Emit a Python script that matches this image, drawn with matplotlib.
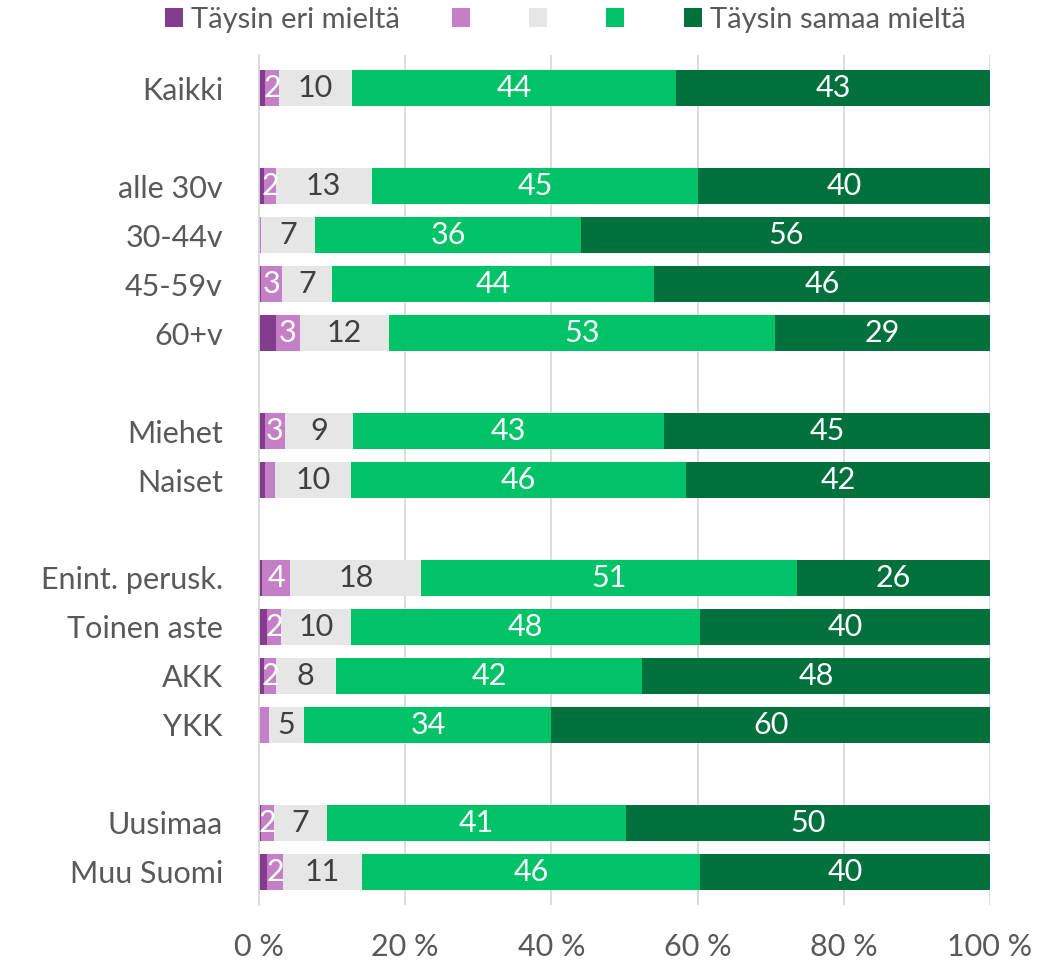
import numpy as np
import matplotlib
matplotlib.use('Agg')
import matplotlib.pyplot as plt

plt.rcParams['font.family'] = ['Lato', 'DejaVu Sans']

# Categories (None = gap row between groups)
cats = ['Kaikki', None, 'alle 30v', '30-44v', '45-59v', '60+v', None,
        'Miehet', 'Naiset', None,
        'Enint. perusk.', 'Toinen aste', 'AKK', 'YKK', None,
        'Uusimaa', 'Muu Suomi']

# shares in % (gap rows left out)
eri      = [0.8, 0.7, 0.0, 0.3, 2.3, 0.8, 0.8, 0.4, 1.1, 0.7, 0.0, 0.3, 1.1]
jokseenkin_eri = [2.0, 1.6, 0.3, 2.9, 3.3, 2.7, 1.4, 3.9, 1.9, 1.6, 1.3, 1.8, 2.2]
ei_osaa  = [9.9, 13.1, 7.4, 6.8, 12.2, 9.4, 10.4, 17.9, 9.6, 8.2, 4.9, 7.2, 10.8]
jokseenkin_samaa = [44.4, 44.7, 36.4, 44.0, 52.8, 42.5, 45.8, 51.4, 47.7, 41.9, 33.8, 40.9, 46.2]
samaa    = [42.9, 39.9, 55.9, 46.0, 29.4, 44.6, 41.6, 26.4, 39.7, 47.6, 60.0, 49.8, 39.7]

legend_labels = ['Täysin eri mieltä', '', '', '', 'Täysin samaa mieltä']
colors = ['#843C8F', '#C47FC6', '#E6E6E6', '#00C267', '#00703C']
label_colors = [None, 'white', '#404040', 'white', 'white']

series = [eri, jokseenkin_eri, ei_osaa, jokseenkin_samaa, samaa]
rows = [i for i, c in enumerate(cats) if c is not None]
names = [c for c in cats if c is not None]

fig = plt.figure(figsize=(10.48, 9.6), dpi=100)
ax = fig.add_axes([259/1048, 1-905/960, (990-259)/1048, (905-55)/960])

left = np.zeros(len(rows))
handles = []
for k, vals in enumerate(series):
    vals = np.array(vals)
    b = ax.barh(rows, vals, left=left, height=0.74, color=colors[k], zorder=3)
    handles.append(b)
    if label_colors[k] is not None:
        for y, l, v in zip(rows, left, vals):
            n = int(np.floor(v + 0.5))
            if n >= 2:
                ax.text(l + v/2, y, '%d' % n, ha='center', va='center',
                        color=label_colors[k], fontsize=22, zorder=4)
    left += vals

ax.set_xlim(0, 100)
ax.set_ylim(16.68, -0.68)
ax.set_yticks(rows)
ax.set_yticklabels(names, fontsize=22, color='#595959')
ax.set_xticks(np.arange(0, 101, 20))
ax.set_xticklabels(['%d %%' % t for t in range(0, 101, 20)], fontsize=22, color='#595959')
ax.tick_params(axis='both', length=0)
ax.tick_params(axis='y', pad=26)
ax.tick_params(axis='x', pad=20)
ax.grid(axis='x', color='#D9D9D9', lw=1.3, zorder=0)
for s in ['top', 'right', 'bottom']:
    ax.spines[s].set_visible(False)
ax.spines['left'].set_color('#D9D9D9')
ax.spines['left'].set_linewidth(1.3)
ax.spines['left'].set_zorder(5)

# legend entries placed one by one along the top
leg_x = [165, 452, 529, 606, 684]
for h, lab, x in zip(handles, legend_labels, leg_x):
    leg = fig.legend([h], [lab], loc='center left', bbox_to_anchor=(x/1048, 1-20/960),
                     frameon=False, fontsize=21, handlelength=0.6, handleheight=0.6,
                     handletextpad=0.3, borderaxespad=0, borderpad=0)
    for t in leg.get_texts():
        t.set_color('#595959')

fig.savefig('out.png', dpi=100)
